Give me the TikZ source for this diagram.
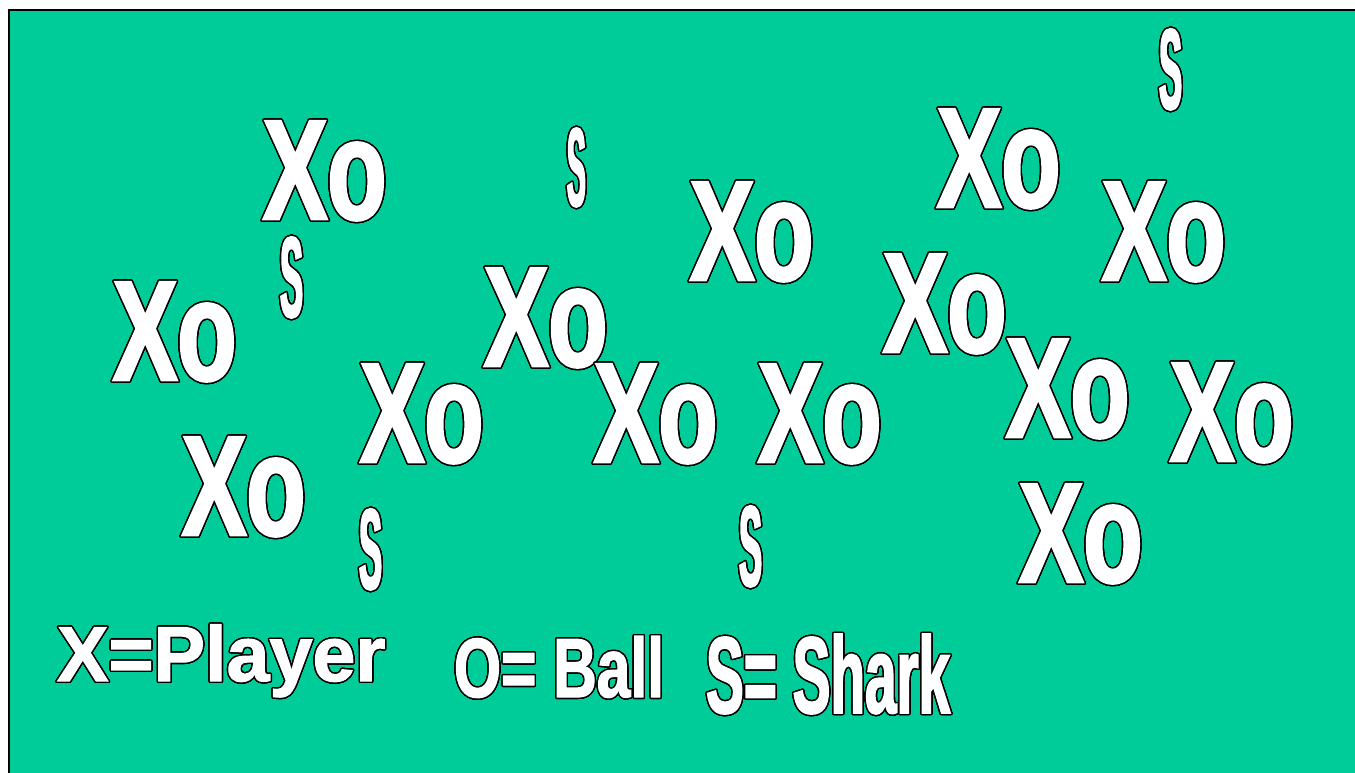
\documentclass[tikz,border=0pt]{standalone}
\usepackage{fontspec}
\usepackage{contour}
\contourlength{1.4pt}
\contournumber{32}
\newfontfamily\xofont[FakeStretch=0.68,FakeBold=2]{Liberation Sans Bold}
\newfontfamily\sharkfont[FakeStretch=0.30,FakeBold=1.5]{Liberation Sans Bold}
\newfontfamily\playerfont[FakeStretch=0.99,FakeBold=1.5]{Liberation Sans Bold}
\newfontfamily\ballfont[FakeStretch=0.72,FakeBold=1.5]{Liberation Sans Bold}
\newfontfamily\sharklegfont[FakeStretch=0.52,FakeBold=1.5]{Liberation Sans Bold}
\definecolor{pool}{RGB}{0,204,153}
\tikzset{
  lbl/.style={anchor=base west, inner sep=0pt, outer sep=0pt, text=white},
  xo/.style={lbl, font=\xofont\fontsize{142}{142}\selectfont},
  shark/.style={lbl, font=\sharkfont\fontsize{115}{115}\selectfont},
}
\newcommand{\ol}[1]{\contour{black}{#1}}
\begin{document}
\begin{tikzpicture}[x=1pt,y=-1pt]
\useasboundingbox (0,0) rectangle (1355,773);
\clip (0,0) rectangle (1355,773);
\fill[white] (0,0) rectangle (1355,773);
\draw[fill=pool, line width=2pt] (9,10) rectangle (1370,790);
% players with balls
\node[xo] (p1) at (263,219) {\ol{Xo}};
\node[xo] (p2) at (113,380) {\ol{Xo}};
\node[xo] (p3) at (182,535) {\ol{Xo}};
\node[xo] (p4) at (360,462) {\ol{Xo}};
\node[xo] (p5) at (484,366) {\ol{Xo}};
\node[xo] (p6) at (594,462) {\ol{Xo}};
\node[xo] (p7) at (690,280) {\ol{Xo}};
\node[xo] (p8) at (758,462) {\ol{Xo}};
\node[xo] (p9) at (883,352) {\ol{Xo}};
\node[xo] (p10) at (937,207) {\ol{Xo}};
\node[xo] (p11) at (1102,280) {\ol{Xo}};
\node[xo] (p12) at (1006,437) {\ol{Xo}};
\node[xo] (p13) at (1170,461) {\ol{Xo}};
\node[xo] (p14) at (1019,582) {\ol{Xo}};
% sharks
\node[shark, font=\sharkfont\fontsize{112}{112}\selectfont\addfontfeature{FakeStretch=0.25}] (s1) at (567,206) {\ol{S}};
\node[shark] (s2) at (280,317) {\ol{S}};
\node[shark] (s3) at (1159,109) {\ol{S}};
\node[shark] (s4) at (359,589) {\ol{S}};
\node[shark] (s5) at (739,586) {\ol{S}};
% legend
\node[lbl, font=\playerfont\fontsize{78}{78}\selectfont] (lx) at (57,681) {\ol{X=Player}};
\node[lbl, font=\ballfont\fontsize{84}{84}\selectfont] (lo) at (454,697) {\ol{O= Ball}};
\node[lbl, font=\sharklegfont\fontsize{109}{109}\selectfont] (ls) at (706,713) {\ol{S= Shark}};
\end{tikzpicture}
\end{document}
